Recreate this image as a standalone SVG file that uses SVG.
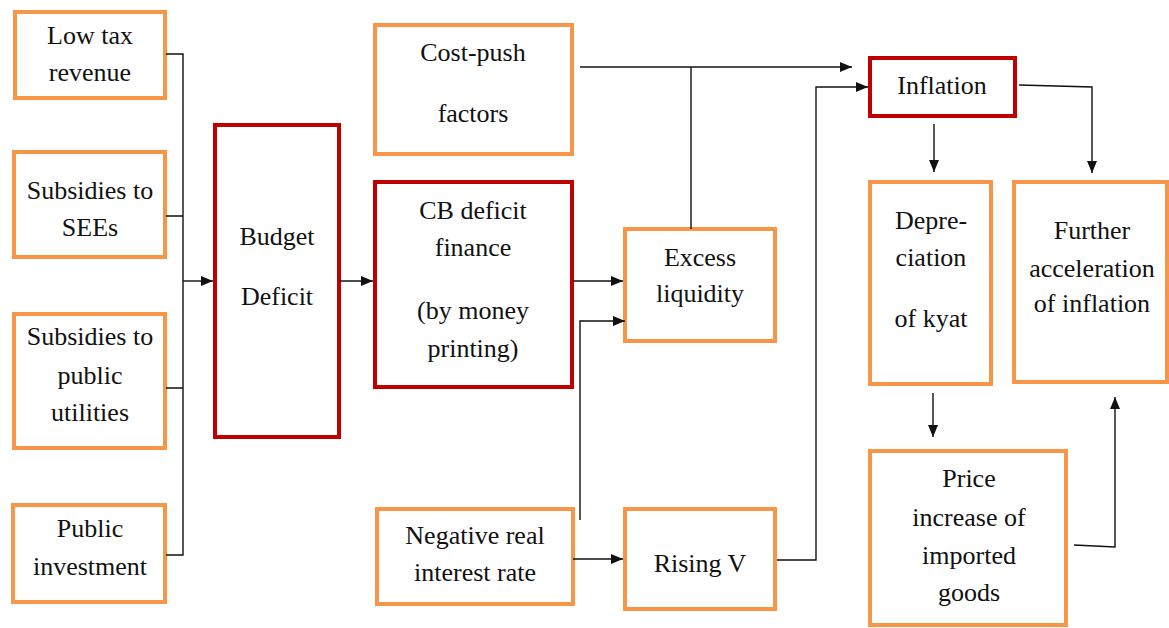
<svg xmlns="http://www.w3.org/2000/svg" width="1169" height="628" viewBox="0 0 1169 628">
<style>
.o{fill:#fff;stroke:#F79646;stroke-width:4}
.r{fill:#fff;stroke:#C00000;stroke-width:4}
text{font-size:26px;fill:#111;text-anchor:middle;dominant-baseline:central}
.c path{fill:none;stroke:#111;stroke-width:1.4}
</style>
<defs>
<marker id="a" viewBox="0 0 12 10" refX="12" refY="5" markerWidth="12" markerHeight="10" markerUnits="userSpaceOnUse" orient="auto">
<path d="M0,0L12,5L0,10z" fill="#111"/>
</marker>
</defs>
<rect width="1169" height="628" fill="#fff"/>
<g font-family="Liberation Serif, Times New Roman, serif">
<g id="low-tax"><rect class="o" x="15" y="12" width="150" height="86"/><text x="90" y="35">Low tax</text><text x="90" y="72">revenue</text></g>
<g id="subs-sees"><rect class="o" x="14" y="152" width="151" height="105"/><text x="90" y="190">Subsidies to</text><text x="90" y="227">SEEs</text></g>
<g id="subs-util"><rect class="o" x="14" y="314" width="151" height="134"/><text x="90" y="336">Subsidies to</text><text x="90" y="375">public</text><text x="90" y="412">utilities</text></g>
<g id="public-inv"><rect class="o" x="13" y="505" width="152" height="97"/><text x="90" y="528">Public</text><text x="90" y="566">investment</text></g>
<g id="budget"><rect class="r" x="215" y="125" width="124" height="312"/><text x="277" y="236">Budget</text><text x="277" y="296">Deficit</text></g>
<g id="cost-push"><rect class="o" x="375" y="25" width="197" height="129"/><text x="473" y="52">Cost-push</text><text x="473" y="113">factors</text></g>
<g id="cb-deficit"><rect class="r" x="375" y="182" width="197" height="205"/><text x="473" y="210">CB deficit</text><text x="473" y="247">finance</text><text x="473" y="310">(by money</text><text x="473" y="348">printing)</text></g>
<g id="excess"><rect class="o" x="625" y="229" width="150" height="112"/><text x="700" y="257">Excess</text><text x="700" y="293">liquidity</text></g>
<g id="negative"><rect class="o" x="377" y="509" width="196" height="95"/><text x="475" y="535">Negative real</text><text x="475" y="572">interest rate</text></g>
<g id="rising-v"><rect class="o" x="625" y="509" width="150" height="100"/><text x="700" y="563">Rising V</text></g>
<g id="inflation"><rect class="r" x="870" y="58" width="145" height="58"/><text x="942" y="85">Inflation</text></g>
<g id="depreciation"><rect class="o" x="870" y="182" width="121" height="202"/><text x="931" y="220">Depre-</text><text x="931" y="257">ciation</text><text x="931" y="318">of kyat</text></g>
<g id="further"><rect class="o" x="1014" y="182" width="153" height="200"/><text x="1092" y="230">Further</text><text x="1092" y="268">acceleration</text><text x="1092" y="303">of inflation</text></g>
<g id="price"><rect class="o" x="870" y="451" width="196" height="174"/><text x="969" y="478">Price</text><text x="969" y="517">increase of</text><text x="969" y="555">imported</text><text x="969" y="592">goods</text></g>
</g>
<g class="c" id="connectors">
<path d="M166,54H183V555H166M166,216H183M166,388H183"/>
<path d="M183,281H213" marker-end="url(#a)"/>
<path d="M340,281H373" marker-end="url(#a)"/>
<path d="M573,281H623" marker-end="url(#a)"/>
<path d="M580,520V321H625" marker-end="url(#a)"/>
<path d="M580,67H852" marker-end="url(#a)"/>
<path d="M691,229V67"/>
<path d="M573,559H623" marker-end="url(#a)"/>
<path d="M777,560H816V87H868" marker-end="url(#a)"/>
<path d="M934,124V172" marker-end="url(#a)"/>
<path d="M1019,85L1092,87V173" marker-end="url(#a)"/>
<path d="M933,393V437" marker-end="url(#a)"/>
<path d="M1074,545L1115,547V397" marker-end="url(#a)"/>
</g>
</svg>
